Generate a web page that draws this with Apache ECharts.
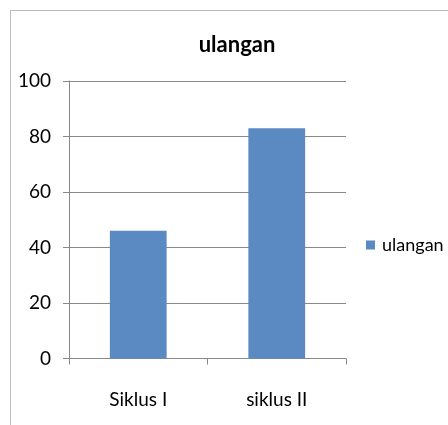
<!DOCTYPE html>
<html><head><meta charset="utf-8">
<script src="https://cdn.jsdelivr.net/npm/echarts@6/dist/echarts.min.js"></script>
<style>html,body{margin:0;padding:0;background:#fff}#c{width:448px;height:425px}</style>
</head><body><div id="c"></div>
<script>
const categories = ["Siklus I", "siklus II"];
const seriesName = "ulangan";
const values = [46, 83];
const yTicks = [0, 20, 40, 60, 80, 100];

const FONT = "Lato, 'Open Sans', sans-serif";
const chart = echarts.init(document.getElementById('c'), null, {renderer: 'canvas'});
chart.setOption({
  animation: false,
  backgroundColor: '#fff',
  title: {
    text: 'ulangan', left: 232, top: 29, textAlign: 'center',
    textStyle: {fontFamily: FONT, fontSize: 22, fontWeight: 'bold', color: '#000'}
  },
  legend: {
    data: [seriesName], left: 361, top: 231, orient: 'vertical',
    icon: 'rect', itemWidth: 9, itemHeight: 9, itemGap: 4,
    textStyle: {fontFamily: FONT, fontSize: 18, color: '#000', padding: [0,0,0,2]}
  },
  grid: {left: 69, top: 81, width: 277, height: 277.5, containLabel: false},
  xAxis: {
    type: 'category', data: categories,
    axisLine: {lineStyle: {color: '#888', width: 1}},
    axisTick: {show: true, length: 6, lineStyle: {color: '#888'}},
    axisLabel: {fontFamily: FONT, fontSize: 19, color: '#000', margin: 32}
  },
  yAxis: {
    type: 'value', min: yTicks[0], max: yTicks[yTicks.length-1], interval: 20,
    axisLine: {show: true, lineStyle: {color: '#888', width: 1}},
    axisTick: {show: true, length: 6, lineStyle: {color: '#888'}},
    splitLine: {lineStyle: {color: '#888', width: 1}},
    axisLabel: {fontFamily: FONT, fontSize: 19, color: '#000', margin: 18}
  },
  series: [{
    name: seriesName, type: 'bar', data: values,
    barWidth: '41%',
    itemStyle: {color: '#5b89c2'}
  }],
  graphic: [{
    type: 'rect', shape: {x: 10.5, y: 10.5, width: 440, height: 420},
    style: {fill: 'none', stroke: '#777', lineWidth: 1, lineDash: [1, 1]}, silent: true
  }]
});
</script></body></html>
